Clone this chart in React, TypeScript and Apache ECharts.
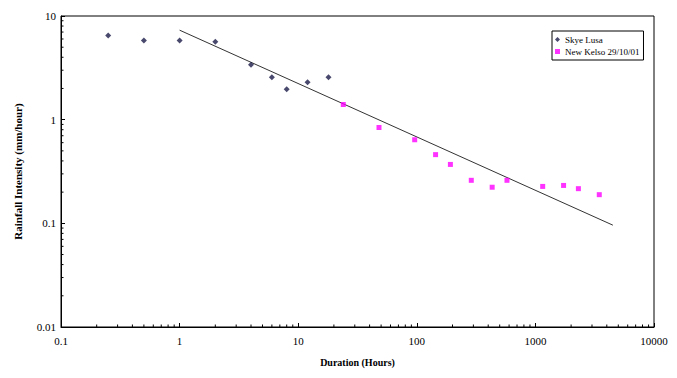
import React, { useEffect, useRef } from "react";
import * as echarts from "echarts";

const skyeDuration = [0.25, 0.5, 1, 2, 4, 6, 8, 12, 18];
const skyeIntensity = [6.5, 5.8, 5.8, 5.65, 3.38, 2.57, 1.97, 2.3, 2.57];

const kelsoDuration = [24, 48, 96, 144, 192, 288, 432, 576, 1152, 1728, 2304, 3456];
const kelsoIntensity = [1.4, 0.84, 0.64, 0.46, 0.37, 0.26, 0.223, 0.26, 0.227, 0.232, 0.216, 0.189];

const trendDuration = [1, 4500];
const trendIntensity = [7.3, 0.096];

const xTickLabels = ["0.1", "1", "10", "100", "1000", "10000"];
const yTickLabels = ["0.01", "0.1", "1", "10"];

const SERIF = "'Liberation Serif', 'DejaVu Serif', serif";

function fmt(v: number) {
  return String(parseFloat(v.toPrecision(6)));
}

export default function App() {
  const ref = useRef<HTMLDivElement>(null);
  useEffect(() => {
    if (!ref.current) return;
    const chart = echarts.init(ref.current, undefined, { renderer: "svg" });

    const xMinor: number[][] = [];
    for (let k = -1; k <= 3; k++) {
      for (let m = 2; m <= 9; m++) xMinor.push([m * Math.pow(10, k), 0.01]);
    }
    const yMinor: number[][] = [];
    for (let k = -2; k <= 0; k++) {
      for (let m = 2; m <= 9; m++) yMinor.push([0.1, m * Math.pow(10, k)]);
    }

    chart.setOption({
      animation: false,
      backgroundColor: "#fff",
      grid: {
        left: 61,
        right: 23,
        top: 16,
        bottom: 51,
        show: true,
        borderColor: "#000",
        borderWidth: 1,
      },
      legend: {
        orient: "vertical",
        left: 552,
        top: 31,
        data: [
          { name: "Skye Lusa", icon: "diamond" },
          { name: "New Kelso 29/10/01", icon: "rect" },
        ],
        itemWidth: 5,
        itemHeight: 5,
        itemGap: 3,
        padding: [4, 4, 4, 3],
        borderColor: "#000",
        borderWidth: 1,
        backgroundColor: "#fff",
        textStyle: { fontFamily: SERIF, fontSize: 9, color: "#000" },
      },
      xAxis: {
        type: "log",
        logBase: 10,
        min: 0.1,
        max: 10000,
        name: "Duration (Hours)",
        nameLocation: "middle",
        nameGap: 30,
        nameTextStyle: { fontFamily: SERIF, fontSize: 10, fontWeight: "bold", color: "#000" },
        axisLine: { lineStyle: { color: "#000", width: 1 } },
        axisTick: { inside: true, length: 4, lineStyle: { color: "#000" } },
        splitLine: { show: false },
        axisLabel: {
          fontFamily: SERIF,
          fontSize: 11,
          color: "#000",
          margin: 8,
          formatter: (v: number) => {
            const s = fmt(v);
            return xTickLabels.includes(s) ? s : "";
          },
        },
      },
      yAxis: {
        type: "log",
        logBase: 10,
        min: 0.01,
        max: 10,
        name: "Rainfall Intensity (mm/hour)",
        nameLocation: "middle",
        nameRotate: 90,
        nameGap: 38,
        nameTextStyle: { fontFamily: SERIF, fontSize: 11, fontWeight: "bold", color: "#000" },
        axisLine: { show: true, lineStyle: { color: "#000", width: 1 } },
        axisTick: { show: true, inside: true, length: 4, lineStyle: { color: "#000" } },
        splitLine: { show: false },
        axisLabel: {
          fontFamily: SERIF,
          fontSize: 11,
          color: "#000",
          margin: 5,
          formatter: (v: number) => {
            const s = fmt(v);
            return yTickLabels.includes(s) ? s : "";
          },
        },
      },
      series: [
        {
          name: "Trend",
          type: "line",
          data: trendDuration.map((d, i) => [d, trendIntensity[i]]),
          showSymbol: false,
          symbol: "none",
          lineStyle: { color: "#333", width: 1 },
          silent: true,
          z: 1,
        },
        {
          name: "Skye Lusa",
          type: "scatter",
          symbol: "diamond",
          symbolSize: 6,
          itemStyle: { color: "#1c1c4a" },
          data: skyeDuration.map((d, i) => [d, skyeIntensity[i]]),
          z: 3,
        },
        {
          name: "New Kelso 29/10/01",
          type: "scatter",
          symbol: "rect",
          symbolSize: 5,
          itemStyle: { color: "#ff00ff" },
          data: kelsoDuration.map((d, i) => [d, kelsoIntensity[i]]),
          z: 3,
        },
        {
          name: "xMinorTicks",
          type: "custom",
          silent: true,
          clip: false,
          data: xMinor,
          renderItem: (params: any, api: any) => {
            const p = api.coord([api.value(0), api.value(1)]);
            return {
              type: "line",
              shape: { x1: p[0], y1: p[1], x2: p[0], y2: p[1] - 2.5 },
              style: { stroke: "#000", lineWidth: 1 },
            };
          },
          z: 2,
        },
        {
          name: "yMinorTicks",
          type: "custom",
          silent: true,
          clip: false,
          data: yMinor,
          renderItem: (params: any, api: any) => {
            const p = api.coord([api.value(0), api.value(1)]);
            return {
              type: "line",
              shape: { x1: p[0], y1: p[1], x2: p[0] + 2.5, y2: p[1] },
              style: { stroke: "#000", lineWidth: 1 },
            };
          },
          z: 2,
        },
      ],
    });
    return () => chart.dispose();
  }, []);
  return (
    <div
      ref={ref}
      style={{ position: "absolute", left: 0, top: 0, width: 677, height: 378 }}
    />
  );
}
